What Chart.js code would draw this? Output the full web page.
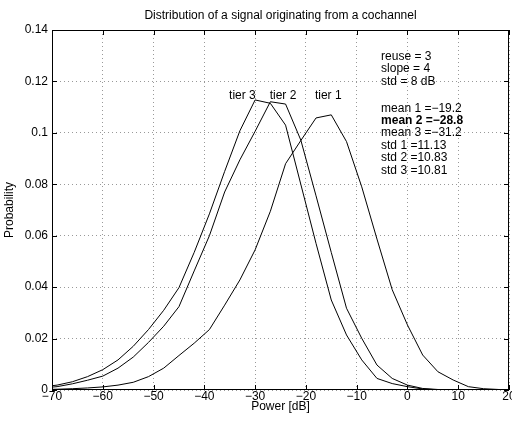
<!DOCTYPE html>
<html>
<head>
<meta charset="utf-8">
<script src="https://cdn.jsdelivr.net/npm/chart.js@4/dist/chart.umd.min.js"></script>
<style>
  body { margin: 0; background: #fff; }
  canvas { display: block; }
</style>
</head>
<body>
<canvas id="pdf-chart" width="512" height="421"></canvas>
<script>
// Data (3 dB bins)

const powerDb = [-72, -69, -66, -63, -60, -57, -54, -51, -48, -45, -42, -39, -36, -33, -30, -27,
  -24, -21, -18, -15, -12, -9, -6, -3, 0, 3, 6, 9, 12, 15, 18, 21];

const tier1 = [0.0002, 0.0003, 0.0005, 0.0008, 0.0012, 0.0019, 0.003, 0.0052, 0.0085, 0.0134,
  0.0182, 0.0235, 0.033, 0.0428, 0.0545, 0.0695, 0.088, 0.097, 0.1058, 0.107, 0.0966, 0.079,
  0.0587, 0.039, 0.0253, 0.0136, 0.0071, 0.0039, 0.0013, 0.0005, 0.0002, 0.0001];

const tier2 = [0.0008, 0.0013, 0.0024, 0.0038, 0.0054, 0.0085, 0.0128, 0.0185, 0.0248, 0.0324,
  0.0463, 0.06, 0.077, 0.0895, 0.1006, 0.1121, 0.1112, 0.0972, 0.0755, 0.0535, 0.0318, 0.0201,
  0.0097, 0.0045, 0.0019, 0.0006, 0.0002, 0.0001, 0, 0, 0, 0];

const tier3 = [0.0012, 0.0019, 0.0032, 0.0052, 0.0079, 0.0117, 0.017, 0.0235, 0.031, 0.0398,
  0.0535, 0.0685, 0.085, 0.1008, 0.1128, 0.1115, 0.103, 0.08, 0.057, 0.035, 0.0214, 0.0117,
  0.0045, 0.0025, 0.0013, 0.0004, 0.0001, 0, 0, 0, 0, 0];

const tierLabels = ["tier 3", "tier 2", "tier 1"];
const tierLabelX = [-32.5, -24.5, -15.6];
const tierLabelY = 0.1144;

const infoLines = ["reuse = 3", "slope = 4", "std = 8 dB", "",
  "mean 1 =\u221219.2", "mean 2 =\u221228.8", "mean 3 =\u221231.2",
  "std 1 =11.13", "std 2 =10.83", "std 3 =10.81"];
const infoBold = [false, false, false, false, false, true, false, false, false, false];

const FONT = '"Liberation Sans", Arial, Helvetica, sans-serif';
const SIZE = 12;

const toPoints = (vals) => powerDb.map((x, i) => ({ x: x, y: vals[i] }));

const lineStyle = {
  borderColor: "#000",
  borderWidth: 1,
  pointRadius: 0,
  tension: 0,
  fill: false,
};

// frame, inward ticks and all the loose text
const overlay = {
  id: "overlay",
  afterDraw(chart) {
    const { ctx, chartArea: a } = chart;
    const xs = chart.scales.x;
    const ys = chart.scales.y;
    ctx.save();
    ctx.strokeStyle = "#000";
    ctx.lineWidth = 1;
    ctx.strokeRect(a.left + 0.5, a.top + 0.5, a.right - a.left - 1, a.bottom - a.top - 1);

    ctx.beginPath();
    xs.ticks.forEach((t) => {
      const px = Math.round(xs.getPixelForValue(t.value)) + 0.5;
      ctx.moveTo(px, a.bottom);
      ctx.lineTo(px, a.bottom - 5);
      ctx.moveTo(px, a.top);
      ctx.lineTo(px, a.top + 5);
    });
    ys.ticks.forEach((t) => {
      const py = Math.round(ys.getPixelForValue(t.value)) + 0.5;
      ctx.moveTo(a.left, py);
      ctx.lineTo(a.left + 5, py);
      ctx.moveTo(a.right, py);
      ctx.lineTo(a.right - 5, py);
    });
    ctx.stroke();

    ctx.fillStyle = "#000";
    ctx.font = SIZE + "px " + FONT;
    ctx.textAlign = "center";
    ctx.textBaseline = "middle";
    const cx = (a.left + a.right) / 2;
    ctx.fillText("Distribution of a signal originating from a cochannel", cx, 16);
    ctx.fillText("Power [dB]", cx, 407);

    ctx.save();
    ctx.translate(10, (a.top + a.bottom) / 2);
    ctx.rotate(-Math.PI / 2);
    ctx.fillText("Probability", 0, 0);
    ctx.restore();

    tierLabels.forEach((s, i) => {
      ctx.fillText(s, xs.getPixelForValue(tierLabelX[i]), ys.getPixelForValue(tierLabelY));
    });

    ctx.textAlign = "left";
    const left = xs.getPixelForValue(-5.2);
    const top = ys.getPixelForValue(0.1296);
    infoLines.forEach((s, i) => {
      ctx.font = (infoBold[i] ? "bold " : "") + SIZE + "px " + FONT;
      ctx.fillText(s, left, top + i * 12.35 + (i > 3 ? 2.3 : 0));
    });
    ctx.restore();
  },
};

const ctx = document.getElementById("pdf-chart");

new Chart(ctx, {
  type: "line",
  data: {
    datasets: [
      { label: "tier 1", data: toPoints(tier1), ...lineStyle },
      { label: "tier 2", data: toPoints(tier2), ...lineStyle },
      { label: "tier 3", data: toPoints(tier3), ...lineStyle },
    ],
  },
  options: {
    responsive: false,
    animation: false,
    devicePixelRatio: 1,
    layout: { padding: { left: 0, top: 30, right: 3, bottom: 0 } },
    plugins: {
      legend: { display: false },
      tooltip: { enabled: false },
    },
    scales: {
      x: {
        type: "linear",
        min: -70,
        max: 20,
        ticks: {
          stepSize: 10,
          padding: -1,
          color: "#000",
          font: { family: FONT, size: SIZE },
          maxRotation: 0,
          callback: (v) => String(v).replace("-", "\u2212"),
        },
        grid: { color: "#999", lineWidth: 1, drawTicks: false },
        border: { display: false, dash: [1, 3] },
        afterFit(scale) {
          scale.height = 31;
          scale.paddingLeft = 0;
          scale.paddingRight = 0;
        },
      },
      y: {
        min: 0,
        max: 0.14,
        ticks: {
          stepSize: 0.02,
          padding: 4,
          color: "#000",
          font: { family: FONT, size: SIZE },
          callback: (v) => String(Math.round(v * 100) / 100),
        },
        grid: { color: "#999", lineWidth: 1, drawTicks: false },
        border: { display: false, dash: [1, 3] },
        afterFit(scale) {
          scale.width = 52;
          scale.paddingTop = 0;
          scale.paddingBottom = 0;
        },
      },
    },
  },
  plugins: [overlay],
});
</script>
</body>
</html>
